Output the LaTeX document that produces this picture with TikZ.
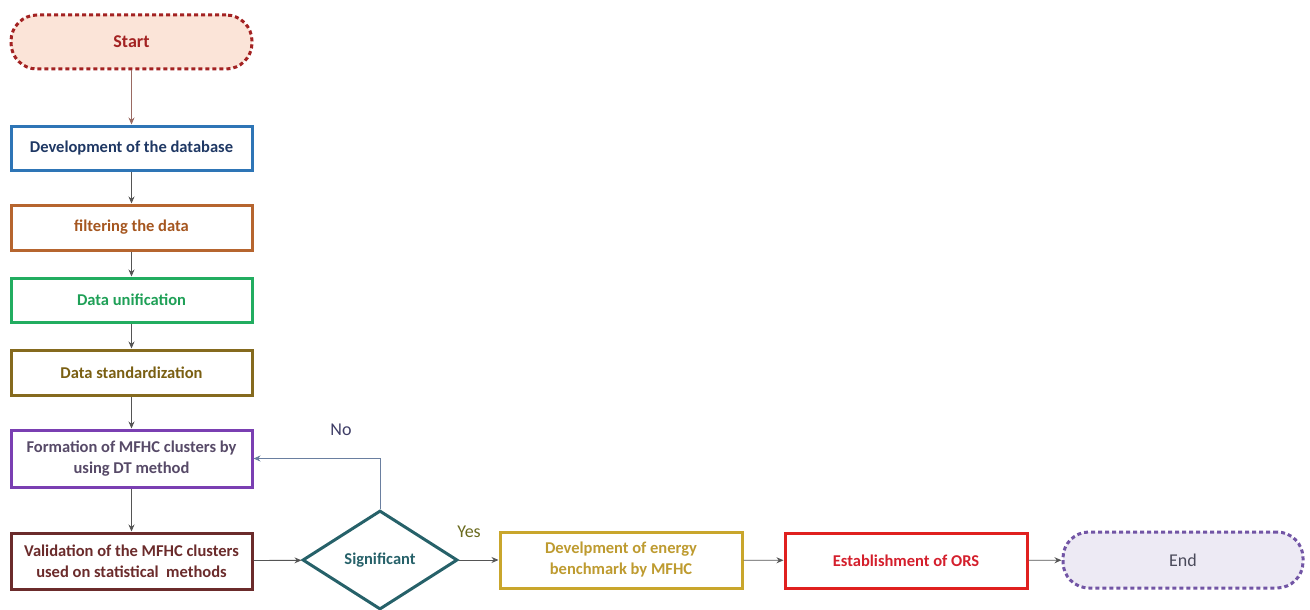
\documentclass[tikz,border=0pt]{standalone}
\usepackage{fontspec}
\setmainfont{Carlito}
\usetikzlibrary{shapes.geometric,arrows.meta}
\definecolor{startfill}{HTML}{FBE4D8}
\definecolor{startdraw}{HTML}{A32222}
\definecolor{dbdraw}{HTML}{2E75B6}
\definecolor{dbtext}{HTML}{1F3864}
\definecolor{filtdraw}{HTML}{B6652F}
\definecolor{filttext}{HTML}{A5561F}
\definecolor{unifdraw}{HTML}{22AD60}
\definecolor{uniftext}{HTML}{1FA057}
\definecolor{stddraw}{HTML}{856A1E}
\definecolor{stdtext}{HTML}{7A5F12}
\definecolor{formdraw}{HTML}{7A3FB2}
\definecolor{formtext}{HTML}{574A68}
\definecolor{valdraw}{HTML}{6B2B2B}
\definecolor{sigdraw}{HTML}{266169}
\definecolor{notext}{HTML}{3E3D66}
\definecolor{yestext}{HTML}{6A6A1E}
\definecolor{devdraw}{HTML}{C9A62C}
\definecolor{devtext}{HTML}{BE9B30}
\definecolor{estdraw}{HTML}{E0201F}
\definecolor{esttext}{HTML}{D41F2C}
\definecolor{endfill}{HTML}{EDEAF4}
\definecolor{enddraw}{HTML}{7255A5}
\definecolor{endtext}{HTML}{4A4A5A}
\definecolor{conn}{HTML}{555555}
\definecolor{startconn}{HTML}{9A6A62}
\definecolor{loopconn}{HTML}{6A7FA0}
\tikzset{
  box/.style={rectangle, line width=3pt, minimum width=241pt, inner sep=2pt, align=center, font=\fontsize{16.5}{21}\selectfont\bfseries, fill=white},
  term/.style={rectangle, rounded corners=26pt, line width=3pt, dash pattern=on 4pt off 3pt, minimum width=241pt, minimum height=54pt, align=center},
  conarrow/.style={draw=conn, line width=0.9pt, -{Stealth[length=7pt,width=6pt]}},
}
\begin{document}
\begin{tikzpicture}[x=1pt,y=-1pt]
\useasboundingbox (0,0) rectangle (1310,610);
\node[term, draw=startdraw, fill=startfill, text=startdraw, font=\fontsize{18}{21}\selectfont\bfseries] (start) at (131.5,42) {Start};
\node[box, draw=dbdraw, text=dbtext, minimum height=44pt] (db) at (131.5,148) {Development of the database};
\node[box, draw=filtdraw, text=filttext, minimum height=45pt] (filt) at (131.5,227.5) {filtering the data};
\node[box, draw=unifdraw, text=uniftext, minimum height=44pt] (unif) at (131.5,300) {Data unification};
\node[box, draw=stddraw, text=stdtext, minimum height=45pt] (std) at (131.5,372.5) {Data standardization};
\node[box, draw=formdraw, text=formtext, minimum height=57pt] (form) at (131.5,458.5) {Formation of MFHC clusters by\\using DT method};
\node[box, draw=valdraw, text=valdraw, minimum height=56pt] (val) at (131.5,561) {Validation of the MFHC clusters\\used on statistical\ \ methods};
\node[diamond, aspect=1.56, draw=sigdraw, text=sigdraw, line width=3pt, minimum width=155pt, minimum height=99pt, inner sep=0pt, font=\fontsize{16.5}{21}\selectfont\bfseries] (sig) at (380,560) {Significant};
\node[box, draw=devdraw, text=devtext, minimum width=242pt, minimum height=56pt] (dev) at (621,560) {Develpment of energy\\benchmark by MFHC};
\node[box, draw=estdraw, text=esttext, minimum width=242pt, minimum height=55pt] (est) at (906,560.5) {Establishment of ORS};
\node[term, draw=enddraw, fill=endfill, text=endtext, minimum width=240pt, minimum height=56pt, font=\fontsize{18}{21}\selectfont] (endn) at (1183,560) {End};
\node[text=notext, font=\fontsize{18}{21}\selectfont] (no) at (341,430) {No};
\node[text=yestext, font=\fontsize{18}{21}\selectfont] (yes) at (469,532) {Yes};
\draw[conarrow, draw=startconn] (start) -- (db);
\draw[conarrow] (db) -- (filt);
\draw[conarrow] (filt) -- (unif);
\draw[conarrow] (unif) -- (std);
\draw[conarrow] (std) -- (form);
\draw[conarrow] (form) -- (val);
\draw[conarrow] (val) -- (sig);
\draw[conarrow, draw=loopconn] (sig.north) |- (form.east);
\draw[conarrow] (sig) -- (dev);
\draw[conarrow] (dev) -- (est);
\draw[conarrow] (est) -- (endn);
\end{tikzpicture}
\end{document}
